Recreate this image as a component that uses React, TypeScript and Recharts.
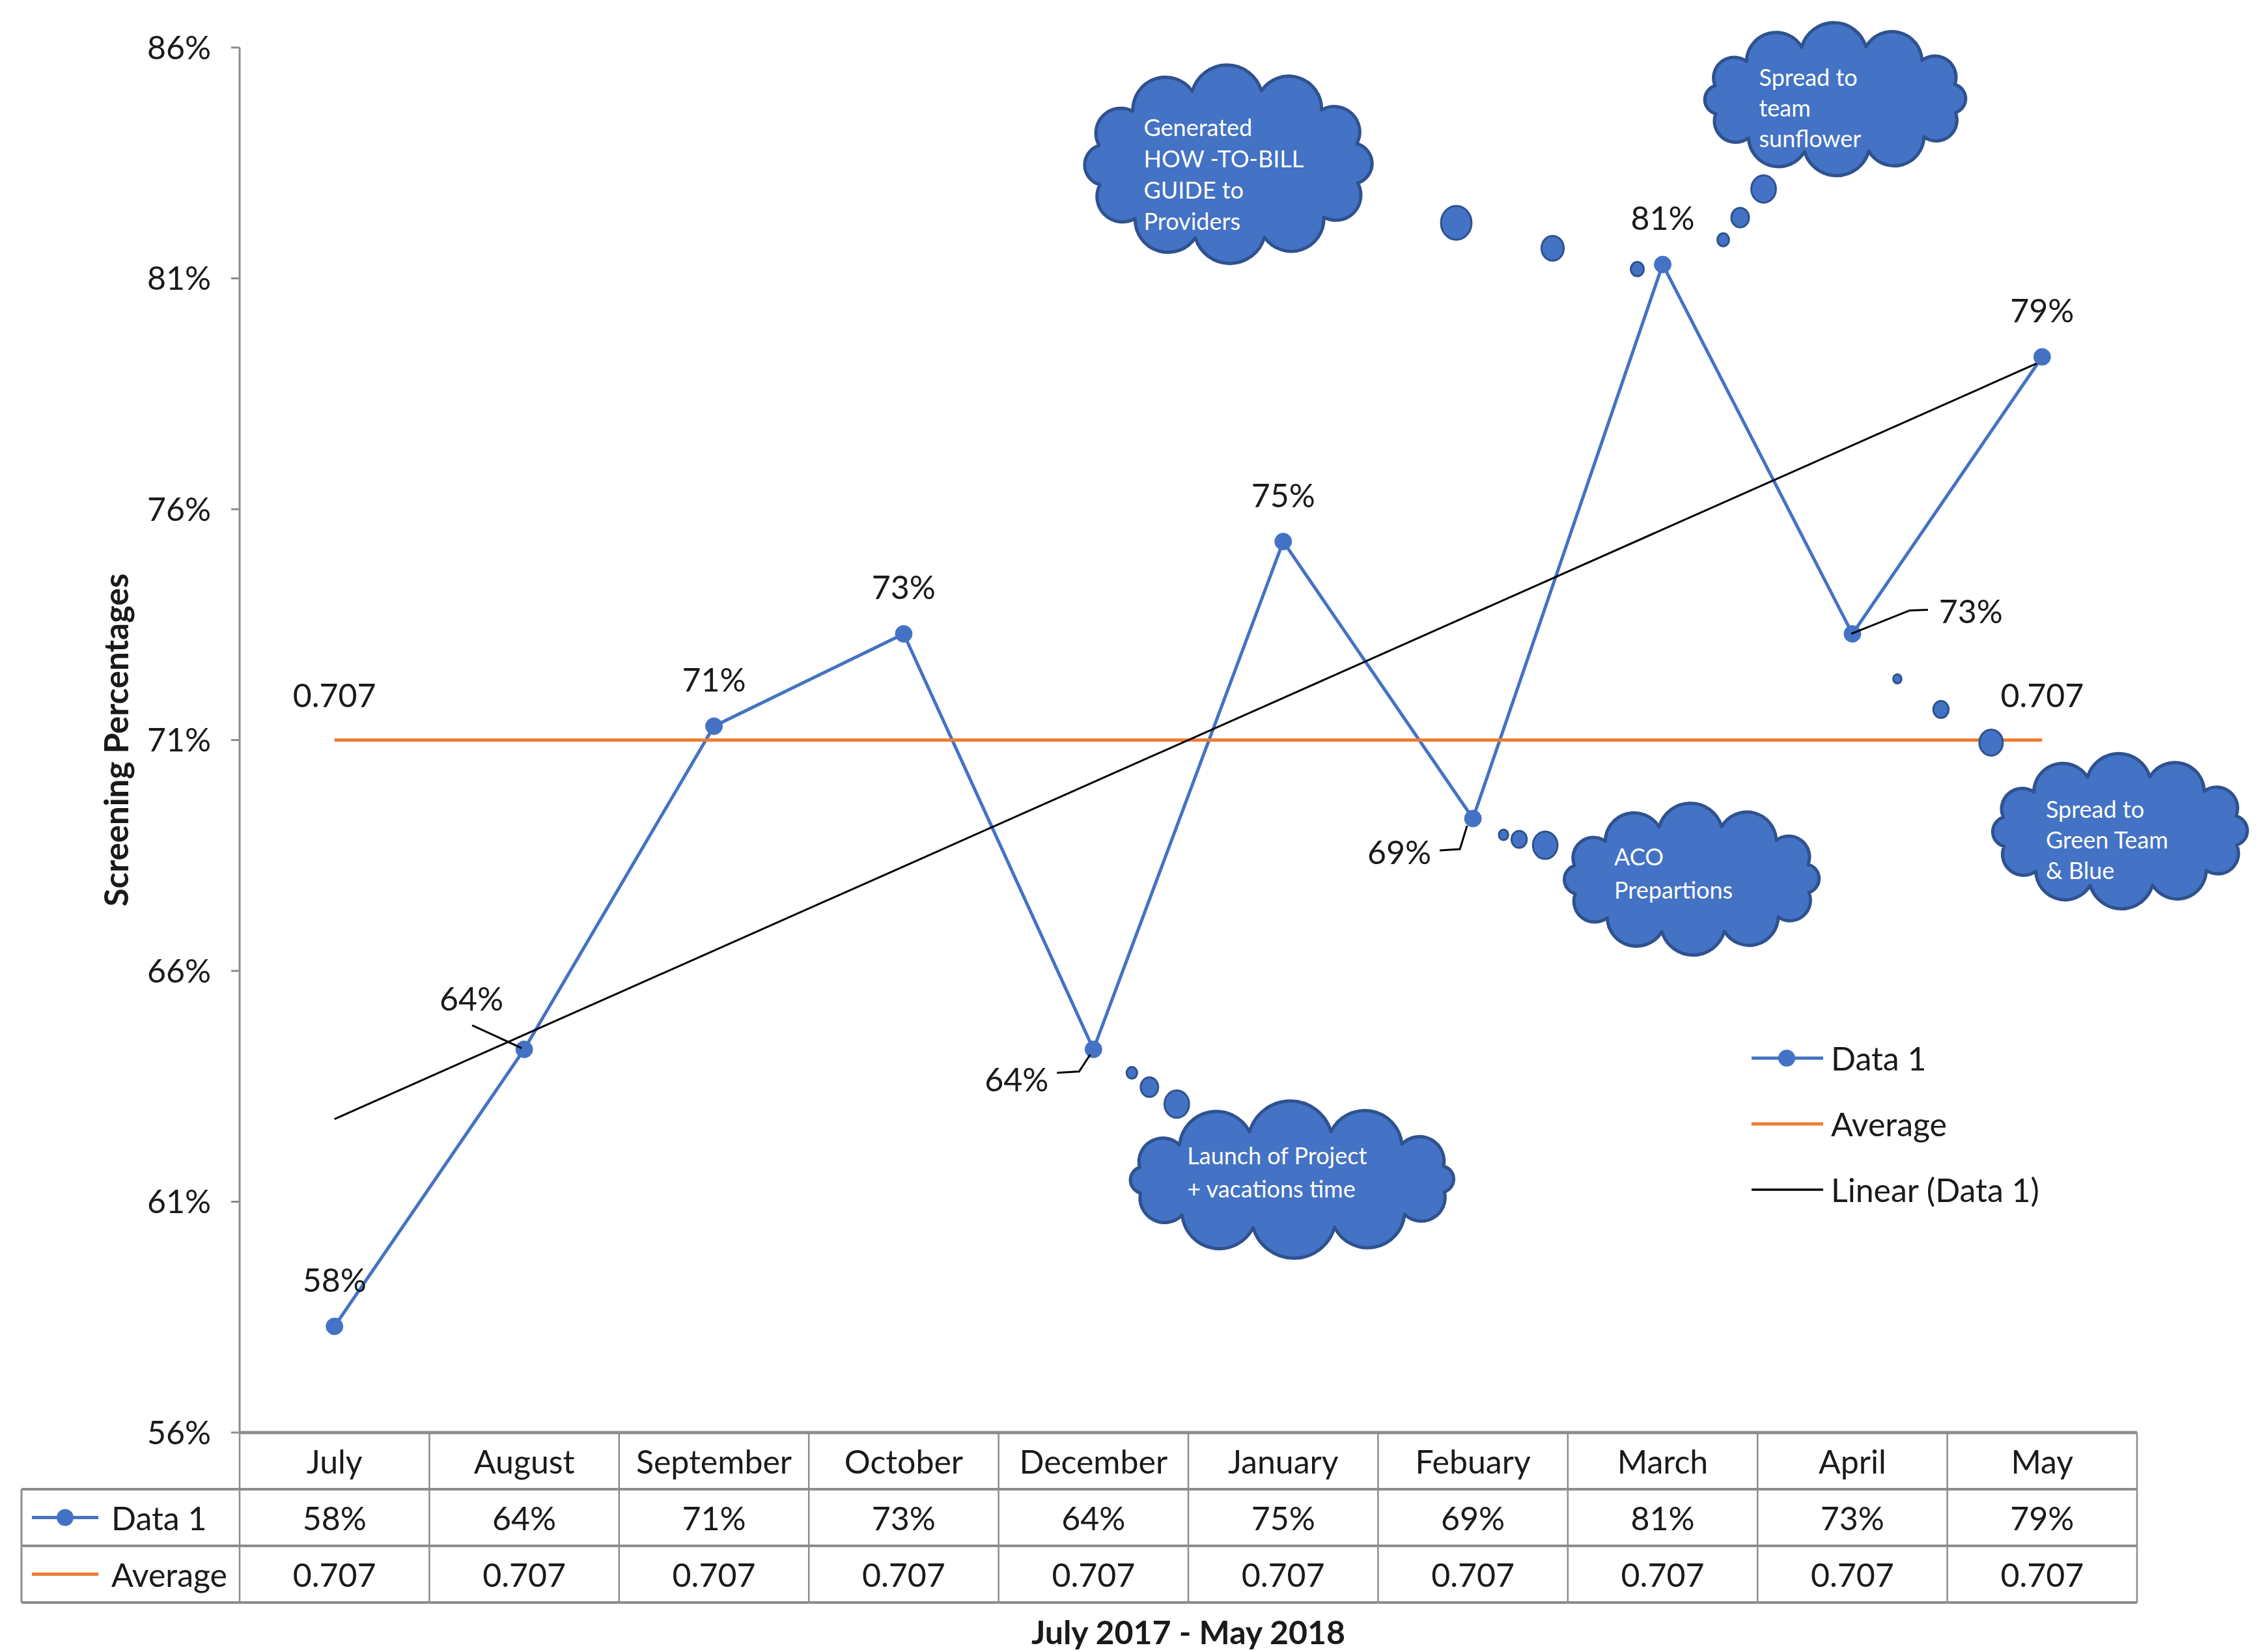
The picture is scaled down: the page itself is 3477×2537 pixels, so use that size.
import React from 'react';
import { ComposedChart, Line, XAxis, YAxis, LabelList, Legend, ReferenceDot } from 'recharts';

// ---- data ----
const months = ['July', 'August', 'September', 'October', 'December', 'January', 'Febuary', 'March', 'April', 'May'];
const data1 = [0.58, 0.64, 0.71, 0.73, 0.64, 0.75, 0.69, 0.81, 0.73, 0.79];
const average = [0.707, 0.707, 0.707, 0.707, 0.707, 0.707, 0.707, 0.707, 0.707, 0.707];
const yTicks = [0.557, 0.607, 0.657, 0.707, 0.757, 0.807, 0.857];

// thought-bubble notes, anchored on a Data 1 point (index)
const notes = [
  { anchor: 7, lines: ['Generated', 'HOW -TO-BILL', 'GUIDE to', 'Providers'] },
  { anchor: 7, lines: ['Spread to', 'team', 'sunflower'] },
  { anchor: 4, lines: ['Launch of Project', '+ vacations time'] },
  { anchor: 6, lines: ['ACO', 'Prepartions'] },
  { anchor: 8, lines: ['Spread to', 'Green Team', '& Blue'] },
];

// ---- layout ----
const W = 3477;
const H = 2537;
const PLOT_LEFT = 368;
const PLOT_RIGHT = 3282;
const PLOT_TOP = 73;
const PLOT_BOTTOM = 2200;
const TABLE_LEFT = 33;
const ROW_H = 87;
const CELL_W = (PLOT_RIGHT - PLOT_LEFT) / months.length;

const FONT = "Lato, 'Open Sans', sans-serif";
const TEXT = '#1a1a1a';
const GRID = '#8c8c8c';
const BLUE = '#4472C4';
const ORANGE = '#ED7D31';
const EDGE = '#2F528F';

const pct = (v: number) => `${Math.round(v * 100)}%`;
const avgFmt = (v: number) => v.toFixed(3);

// linear trend of Data 1 (least squares)
const n = data1.length;
const meanX = (n - 1) / 2;
const meanY = data1.reduce((a, b) => a + b, 0) / n;
const slope =
  data1.reduce((s, v, i) => s + (i - meanX) * (v - meanY), 0) /
  data1.reduce((s, _v, i) => s + (i - meanX) * (i - meanX), 0);
const trend = data1.map((_v, i) => meanY + slope * (i - meanX));

const rows = months.map((m, i) => ({ month: m, data1: data1[i], average: average[i], trend: trend[i] }));

// label placement relative to the point, plus leader lines
const labelOffsets = [[0, -72], [-81, -79], [0, -72], [0, -72], [-118, 45], [0, -72], [-113, 51], [0, -72], [182, -35], [0, -72]];
const leaders: Record<number, number[][]> = {
  1: [[-80, -37], [-4, -2]],
  4: [[-56, 36], [-22, 34], [-5, 8]],
  6: [[-51, 49], [-20, 47], [-9, 11]],
  8: [[116, -37], [88, -36], [-2, 0]],
};

// cloud geometry relative to the anchor point
const noteLayout = [
  { dx: -667, dy: -154, w: 481, h: 304, tx: -130, ty: -57, lh: 48, bubbles: [[-317, -64, 26], [-169, -25, 19], [-39, 7, 11]] },
  { dx: 265, dy: -254, w: 443, h: 228, tx: -117, ty: -34, lh: 47, bubbles: [[93, -38, 10], [119, -72, 15], [155, -116, 21]] },
  { dx: 305, dy: 200, w: 557, h: 226, tx: -161, ty: -38, lh: 51, bubbles: [[59, 36, 9], [86, 58, 15], [128, 84, 21]] },
  { dx: 336, dy: 93, w: 432, h: 227, tx: -119, ty: -35, lh: 51, bubbles: [[47, 25, 8], [71, 32, 13], [111, 41, 21]] },
  { dx: 411, dy: 303, w: 431, h: 233, tx: -114, ty: -34, lh: 47, bubbles: [[69, 69, 7], [136, 116, 13], [213, 167, 20]] },
];

function cloudPath(cx: number, cy: number, w: number, h: number, lobes: number) {
  let bulge = 0;
  let pts: number[][] = [];
  for (let it = 0; it < 12; it++) {
    const rx = w / 2 - bulge;
    const ry = h / 2 - bulge;
    pts = [];
    for (let k = 0; k < lobes; k++) {
      const a = (k / lobes) * Math.PI * 2 + 0.25;
      pts.push([cx + rx * Math.cos(a), cy + ry * Math.sin(a)]);
    }
    let sum = 0;
    for (let k = 0; k < lobes; k++) {
      const p = pts[k];
      const q = pts[(k + 1) % lobes];
      sum += Math.hypot(q[0] - p[0], q[1] - p[1]);
    }
    bulge = (bulge + (sum / lobes) * 0.42) / 2;
  }
  let d = `M${pts[0][0]},${pts[0][1]}`;
  for (let k = 0; k < lobes; k++) {
    const p = pts[k];
    const q = pts[(k + 1) % lobes];
    const r = Math.hypot(q[0] - p[0], q[1] - p[1]) * 0.52;
    d += ` A${r},${r} 0 0 1 ${q[0]},${q[1]}`;
  }
  return d + ' Z';
}

const Cloud = ({ cx, cy, idx }: { cx: number; cy: number; idx: number }) => {
  const L = noteLayout[idx];
  const ox = cx + L.dx;
  const oy = cy + L.dy;
  return (
    <g>
      {L.bubbles.map(([bx, by, r], k) => (
        <ellipse key={k} cx={cx + bx} cy={cy + by} rx={r * 0.9} ry={r} fill={BLUE} stroke={EDGE} strokeWidth={3} />
      ))}
      <path d={cloudPath(ox, oy, L.w, L.h, 12)} fill={BLUE} stroke={EDGE} strokeWidth={5} strokeLinejoin="round" />
      {notes[idx].lines.map((t, k) => (
        <text key={k} x={ox + L.tx} y={oy + L.ty + k * L.lh} dominantBaseline="central" fontSize={36} fill="#ffffff" fontFamily={FONT}>
          {t}
        </text>
      ))}
    </g>
  );
};

const TableTick = (props: any) => {
  const { x, index } = props;
  const left = x - CELL_W / 2;
  const right = x + CELL_W / 2;
  const ys = [PLOT_BOTTOM, PLOT_BOTTOM + ROW_H, PLOT_BOTTOM + 2 * ROW_H, PLOT_BOTTOM + 3 * ROW_H];
  const mid = (r: number) => PLOT_BOTTOM + ROW_H * (r + 0.5);
  const txt = { fontSize: 50, fill: TEXT, fontFamily: FONT } as const;
  return (
    <g>
      {ys.slice(1).map((y) => (
        <line key={y} x1={left} x2={right} y1={y} y2={y} stroke={GRID} strokeWidth={4} />
      ))}
      <line x1={right} x2={right} y1={PLOT_BOTTOM} y2={ys[3]} stroke={GRID} strokeWidth={2.5} />
      {index === 0 && (
        <g>
          <line x1={left} x2={left} y1={PLOT_BOTTOM} y2={ys[3]} stroke={GRID} strokeWidth={2.5} />
          <line x1={TABLE_LEFT} x2={TABLE_LEFT} y1={ys[1]} y2={ys[3]} stroke={GRID} strokeWidth={3} />
          {ys.slice(1).map((y) => (
            <line key={y} x1={TABLE_LEFT} x2={left} y1={y} y2={y} stroke={GRID} strokeWidth={4} />
          ))}
          <line x1={49} x2={151} y1={mid(1)} y2={mid(1)} stroke={BLUE} strokeWidth={5} />
          <circle cx={100} cy={mid(1)} r={13} fill={BLUE} />
          <text x={171} y={mid(1)} dominantBaseline="central" {...txt}>Data 1</text>
          <line x1={49} x2={151} y1={mid(2)} y2={mid(2)} stroke={ORANGE} strokeWidth={5} />
          <text x={171} y={mid(2)} dominantBaseline="central" {...txt}>Average</text>
        </g>
      )}
      <text x={x} y={mid(0)} textAnchor="middle" dominantBaseline="central" {...txt}>{months[index]}</text>
      <text x={x} y={mid(1)} textAnchor="middle" dominantBaseline="central" {...txt}>{pct(data1[index])}</text>
      <text x={x} y={mid(2)} textAnchor="middle" dominantBaseline="central" {...txt}>{avgFmt(average[index])}</text>
    </g>
  );
};

const dataLabel = (p: any) => {
  const x = p.viewBox?.x ?? p.x;
  const y = p.viewBox?.y ?? p.y;
  const i = p.index;
  const [dx, dy] = labelOffsets[i];
  const leader = leaders[i];
  return (
    <g key={`dl-${i}`}>
      {leader && (
        <polyline points={leader.map(([a, b]) => `${x + a},${y + b}`).join(' ')} fill="none" stroke="#000" strokeWidth={3} />
      )}
      <text x={x + dx} y={y + dy} textAnchor="middle" dominantBaseline="central" fontSize={50} fill={TEXT} fontFamily={FONT}>
        {pct(p.value)}
      </text>
    </g>
  );
};

const avgLabel = (p: any) => {
  const i = p.index;
  if (i !== 0 && i !== average.length - 1) return null;
  const x = p.viewBox?.x ?? p.x;
  const y = p.viewBox?.y ?? p.y;
  return (
    <text key={`al-${i}`} x={x} y={y - 70} textAnchor="middle" dominantBaseline="central" fontSize={50} fill={TEXT} fontFamily={FONT}>
      {avgFmt(p.value)}
    </text>
  );
};

const legendItems = [
  { name: 'Data 1', color: BLUE, width: 5, dot: true },
  { name: 'Average', color: ORANGE, width: 5, dot: false },
  { name: 'Linear (Data 1)', color: '#000', width: 3.5, dot: false },
];

const LegendBox = () => (
  <div style={{ fontFamily: FONT, fontSize: 50, color: TEXT }}>
    {legendItems.map((it) => (
      <div key={it.name} style={{ height: 101, display: 'flex', alignItems: 'center' }}>
        <svg width={110} height={40} style={{ marginRight: 12 }}>
          <line x1={0} x2={110} y1={20} y2={20} stroke={it.color} strokeWidth={it.width} />
          {it.dot && <circle cx={54} cy={20} r={13} fill={it.color} />}
        </svg>
        <span>{it.name}</span>
      </div>
    ))}
  </div>
);

export default function App() {
  return (
    <div style={{ position: 'absolute', left: 0, top: 0, width: W, height: H, background: '#fff' }}>
      <ComposedChart
        width={W}
        height={H}
        data={rows}
        margin={{ top: PLOT_TOP, right: W - PLOT_RIGHT, bottom: 0, left: 0 }}
        style={{ fontFamily: FONT }}
      >
        <XAxis
          dataKey="month"
          scale="band"
          interval={0}
          tickLine={false}
          axisLine={{ stroke: GRID, strokeWidth: 5 }}
          tick={<TableTick />}
          height={H - PLOT_BOTTOM}
          label={{
            value: 'July 2017 - May 2018',
            position: 'insideBottom',
            offset: 12,
            style: { fontSize: 50, fontWeight: 700, fill: TEXT, fontFamily: FONT },
          }}
        />
        <YAxis
          type="number"
          domain={[yTicks[0], yTicks[yTicks.length - 1]]}
          ticks={yTicks}
          tickFormatter={pct}
          width={PLOT_LEFT}
          tickSize={13}
          tickMargin={31}
          axisLine={{ stroke: GRID, strokeWidth: 3 }}
          tickLine={{ stroke: GRID, strokeWidth: 3 }}
          tick={{ fontSize: 50, fill: TEXT, fontFamily: FONT }}
          label={{
            content: (p: any) => {
              const vb = p.viewBox || { x: 0, y: PLOT_TOP, height: PLOT_BOTTOM - PLOT_TOP };
              const tx = vb.x + 177;
              const ty = vb.y + vb.height / 2;
              return (
                <text x={tx} y={ty} transform={`rotate(-90 ${tx} ${ty})`} textAnchor="middle" dominantBaseline="central" fontSize={51} fontWeight={700} fill={TEXT} fontFamily={FONT}>
                  Screening Percentages
                </text>
              );
            },
          }}
        />
        <Legend
          layout="vertical"
          align="center"
          verticalAlign="middle"
          wrapperStyle={{ left: 2690, top: 1574, width: 720, height: 303 }}
          content={() => <LegendBox />}
        />
        <Line
          name="Data 1"
          dataKey="data1"
          type="linear"
          stroke={BLUE}
          strokeWidth={5}
          dot={{ r: 13, fill: BLUE, stroke: BLUE, strokeWidth: 1 }}
          activeDot={false}
          isAnimationActive={false}
        >
          <LabelList dataKey="data1" content={dataLabel} />
        </Line>
        <Line
          name="Average"
          dataKey="average"
          type="linear"
          stroke={ORANGE}
          strokeWidth={5}
          dot={false}
          activeDot={false}
          isAnimationActive={false}
        >
          <LabelList dataKey="average" content={avgLabel} />
        </Line>
        <Line
          name="Linear (Data 1)"
          dataKey="trend"
          type="linear"
          stroke="#000"
          strokeWidth={3}
          dot={false}
          activeDot={false}
          isAnimationActive={false}
        />
        {notes.map((nt, k) => (
          <ReferenceDot
            key={k}
            x={months[nt.anchor]}
            y={data1[nt.anchor]}
            r={1}
            ifOverflow="visible"
            shape={(p: any) => <Cloud cx={p.cx} cy={p.cy} idx={k} />}
          />
        ))}
      </ComposedChart>
    </div>
  );
}
